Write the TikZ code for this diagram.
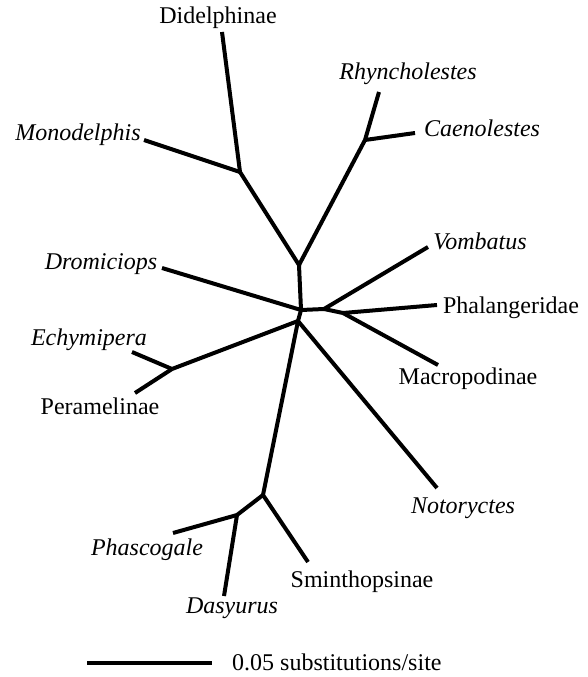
\documentclass[tikz,border=0pt]{standalone}
\usepackage{fontspec}
\setmainfont{Liberation Serif}
\begin{document}
\begin{tikzpicture}[x=1pt, y=-1pt,
    branch/.style={line width=4pt},
    taxon/.style={font=\fontsize{24}{28}\selectfont, anchor=base, inner sep=0pt},
    genus/.style={taxon, font=\fontsize{24}{28}\selectfont\itshape}]
            \useasboundingbox(0,0)rectangle(588,677);
            % inner nodes
            \coordinate(A)at(299,265);
            \coordinate(B)at(240,172);
            \coordinate(F)at(365,140);
            \coordinate(C1)at(301,310);
            \coordinate(C2)at(298,321);
            \coordinate(D)at(324,309);
            \coordinate(E)at(343,313);
            \coordinate(G)at(172,369);
            \coordinate(H)at(263,495);
            \coordinate(I)at(237,515);
            % tips
            \coordinate(didel)at(222,32);
            \coordinate(mono)at(144,140);
            \coordinate(rhyn)at(379,92);
            \coordinate(caeno)at(415,133);
            \coordinate(drom)at(162,268);
            \coordinate(vomb)at(428,247);
            \coordinate(phal)at(437,305);
            \coordinate(macro)at(438,365);
            \coordinate(noto)at(437,488);
            \coordinate(echy)at(132,352);
            \coordinate(pera)at(135,393);
            \coordinate(phas)at(173,533);
            \coordinate(dasy)at(224,596);
            \coordinate(smin)at(308,562);
            % branches
            \path[draw, branch](C1)to(A);
            \path[draw, branch](A)to(B);
            \path[draw, branch](B)to(didel);
            \path[draw, branch](B)to(mono);
            \path[draw, branch](A)to(F);
            \path[draw, branch](F)to(rhyn);
            \path[draw, branch](F)to(caeno);
            \path[draw, branch](C1)to(drom);
            \path[draw, branch](C1)to(D);
            \path[draw, branch](D)to(vomb);
            \path[draw, branch](D)to(E);
            \path[draw, branch](E)to(phal);
            \path[draw, branch](E)to(macro);
            \path[draw, branch](C1)to(C2);
            \path[draw, branch](C2)to(noto);
            \path[draw, branch](C2)to(G);
            \path[draw, branch](G)to(echy);
            \path[draw, branch](G)to(pera);
            \path[draw, branch](C2)to(H);
            \path[draw, branch](H)to(I);
            \path[draw, branch](I)to(phas);
            \path[draw, branch](I)to(dasy);
            \path[draw, branch](H)to(smin);
            % labels
            \node[taxon](Ldidel)at(218,24){Didelphinae};
            \node[genus](Lmono)at(78,140){Monodelphis};
            \node[genus](Lrhyn)at(408,79){Rhyncholestes};
            \node[genus](Lcaeno)at(482,136){Caenolestes};
            \node[genus](Ldrom)at(101,269){Dromiciops};
            \node[genus](Lvomb)at(480,249){Vombatus};
            \node[taxon](Lphal)at(511,313){Phalangeridae};
            \node[taxon](Lmacro)at(468,384){Macropodinae};
            \node[genus](Lnoto)at(463,513){Notoryctes};
            \node[genus](Lechy)at(89,345){Echymipera};
            \node[taxon](Lpera)at(100,414){Peramelinae};
            \node[genus](Lphas)at(147,555){Phascogale};
            \node[genus](Ldasy)at(232,613){Dasyurus};
            \node[taxon](Lsmin)at(362,587){Sminthopsinae};
            % scale bar
            \coordinate(s0)at(87,663);
            \coordinate(s1)at(212,663);
            \path[draw, branch](s0)to(s1);
            \node[taxon, anchor=base west](Lscale)at(232,670){0.05 substitutions/site};
        \end{tikzpicture}
\end{document}
